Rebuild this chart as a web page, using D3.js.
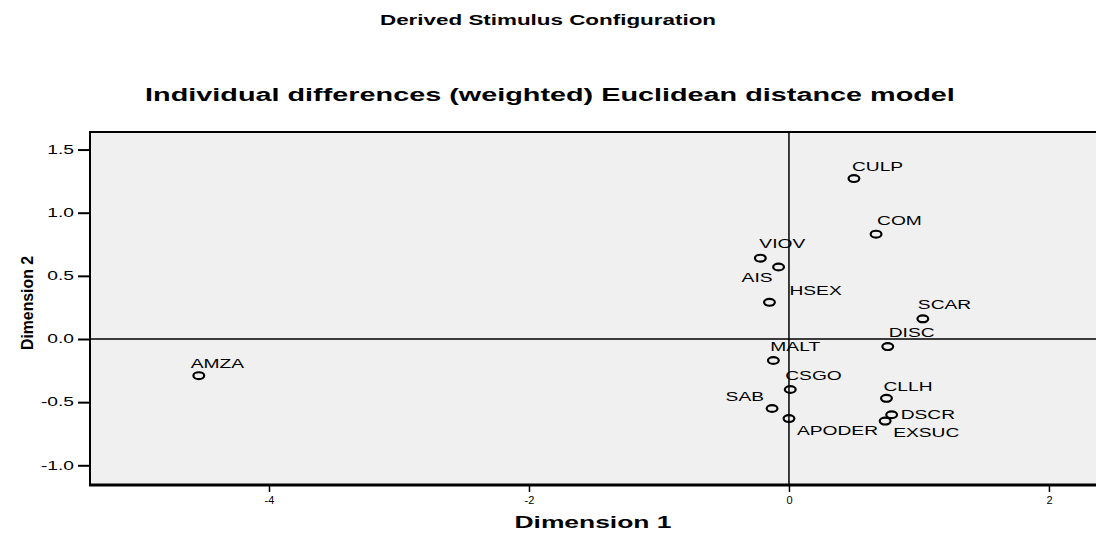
<!DOCTYPE html>
<html>
<head>
<meta charset="utf-8">
<script src="https://cdn.jsdelivr.net/npm/d3@7"></script>
<style>
  body { margin: 0; background: #fff; }
  svg { display: block; font-family: "Liberation Sans", Arial, sans-serif; }
</style>
</head>
<body>
<svg id="chart"></svg>
<script>
  // stimulus names and their coordinates on the two dimensions
  var stimuli = ["CULP", "COM", "VIOV", "AIS", "HSEX", "SCAR", "DISC", "MALT", "CSGO", "CLLH", "SAB", "APODER", "DSCR", "EXSUC", "AMZA"];
  var dim1 = [0.50, 0.67, -0.22, -0.08, -0.15, 1.03, 0.76, -0.12, 0.01, 0.75, -0.13, 0.00, 0.79, 0.74, -4.54];
  var dim2 = [1.27, 0.83, 0.64, 0.57, 0.29, 0.16, -0.06, -0.17, -0.40, -0.47, -0.55, -0.63, -0.60, -0.65, -0.29];

  // tick labels
  var xTicks = [-4, -2, 0, 2];
  var yTicks = [-1.0, -0.5, 0.0, 0.5, 1.0, 1.5];

  var mainTitle = "Derived Stimulus Configuration";
  var subTitle = "Individual differences (weighted) Euclidean distance model";
  var xTitle = "Dimension 1";
  var yTitle = "Dimension 2";

  // where each label sits relative to its marker (dx, dy, anchor)
  var labelNudge = {
    CULP: [-2, -12, "start"], COM: [1, -13, "start"], VIOV: [-1, -14, "start"],
    AIS: [-6, 11, "end"], HSEX: [20, -12, "start"], SCAR: [-5, -14, "start"],
    DISC: [1, -14, "start"], MALT: [-3, -14, "start"], CSGO: [-5, -14, "start"],
    CLLH: [-3, -12, "start"], SAB: [-8, -12, "end"], APODER: [8, 12, "start"],
    DSCR: [9, 0, "start"], EXSUC: [8, 12, "start"], AMZA: [-8, -12, "start"]
  };

  var svgWidth = 1096, svgHeight = 533;
  var plot = { left: 90, top: 132, right: 1096, bottom: 485 };
  var stretch = 1.6; // text in the reference is wider than plain Arial

  var svg = d3.select("#chart")
      .attr("width", svgWidth)
      .attr("height", svgHeight);

  // widen a text element horizontally by factor k
  function widen(sel, k) {
    sel.each(function() {
      var len = this.getComputedTextLength();
      d3.select(this)
        .attr("textLength", len * k)
        .attr("lengthAdjust", "spacingAndGlyphs");
    });
    return sel;
  }

  // plain hyphen for negatives, like the reference
  function fmt(f) {
    var base = d3.format(f);
    return function(d) { return base(d).replace("\u2212", "-"); };
  }

  var x = d3.scaleLinear()
      .domain([-5.377, 2.362])
      .range([plot.left, plot.right]);
  var y = d3.scaleLinear()
      .domain([-1.156, 1.639])
      .range([plot.bottom, plot.top]);

  //plot background
  svg.append("rect")
      .attr("x", plot.left)
      .attr("y", plot.top)
      .attr("width", plot.right - plot.left + 10)
      .attr("height", plot.bottom - plot.top)
      .attr("fill", "#f0f0f0")
      .attr("stroke", "#000")
      .attr("stroke-width", 2);

  // zero reference lines
  svg.append("line")
      .attr("x1", x(0)).attr("x2", x(0))
      .attr("y1", plot.top).attr("y2", plot.bottom)
      .attr("stroke", "#000").attr("stroke-width", 1.5);
  svg.append("line")
      .attr("x1", plot.left).attr("x2", plot.right + 10)
      .attr("y1", y(0)).attr("y2", y(0))
      .attr("stroke", "#000").attr("stroke-width", 1.5);

  //x axis
  var gx = svg.append("g")
      .attr("transform", "translate(0," + plot.bottom + ")")
      .call(d3.axisBottom(x).tickValues(xTicks).tickSize(7).tickPadding(4).tickFormat(fmt("d")));
  gx.select(".domain").remove();
  gx.selectAll(".tick line").attr("stroke-width", 1.5);
  gx.selectAll(".tick text")
      .style("font-size", "11px")
      .attr("fill", "#000");
  svg.append("line")
      .attr("x1", plot.left - 1).attr("x2", plot.right + 10)
      .attr("y1", plot.bottom).attr("y2", plot.bottom)
      .attr("stroke", "#000").attr("stroke-width", 3);

  //y axis
  var gy = svg.append("g")
      .attr("transform", "translate(" + plot.left + ",0)")
      .call(d3.axisLeft(y).tickValues(yTicks).tickSize(12).tickPadding(4).tickFormat(fmt(".1f")));
  gy.select(".domain").remove();
  gy.selectAll(".tick line").attr("stroke-width", 2);
  widen(gy.selectAll(".tick text")
      .attr("font-size", 12)
      .attr("fill", "#000"), stretch);

  // markers
  svg.append("g")
    .selectAll("ellipse")
    .data(stimuli)
    .join("ellipse")
      .attr("cx", function(d, i) { return x(dim1[i]); })
      .attr("cy", function(d, i) { return y(dim2[i]); })
      .attr("rx", 5.4)
      .attr("ry", 3.4)
      .attr("fill", "none")
      .attr("stroke", "#000")
      .attr("stroke-width", 2.2);

  // point labels
  widen(svg.append("g")
    .selectAll("text")
    .data(stimuli)
    .join("text")
      .attr("x", function(d, i) { return x(dim1[i]) + labelNudge[d][0]; })
      .attr("y", function(d, i) { return y(dim2[i]) + labelNudge[d][1] + 4.3; })
      .attr("text-anchor", function(d) { return labelNudge[d][2]; })
      .attr("font-size", 12)
      .text(function(d) { return d; }), stretch);

  // titles
  widen(svg.append("text")
      .attr("x", svgWidth / 2)
      .attr("y", 25)
      .attr("text-anchor", "middle")
      .attr("font-size", 14)
      .attr("font-weight", "bold")
      .text(mainTitle), stretch);

  widen(svg.append("text")
      .attr("x", 550)
      .attr("y", 101)
      .attr("text-anchor", "middle")
      .attr("font-size", 18)
      .attr("font-weight", "bold")
      .text(subTitle), stretch);

  widen(svg.append("text")
      .attr("x", (plot.left + plot.right) / 2)
      .attr("y", 528)
      .attr("text-anchor", "middle")
      .attr("font-size", 16)
      .attr("font-weight", "bold")
      .text(xTitle), 1.65);

  svg.append("text")
      .attr("transform", "translate(33," + 303 + ") rotate(-90)")
      .attr("text-anchor", "middle")
      .attr("font-size", 17)
      .attr("font-weight", "bold")
      .attr("textLength", 94)
      .attr("lengthAdjust", "spacingAndGlyphs")
      .text(yTitle);
</script>
</body>
</html>
